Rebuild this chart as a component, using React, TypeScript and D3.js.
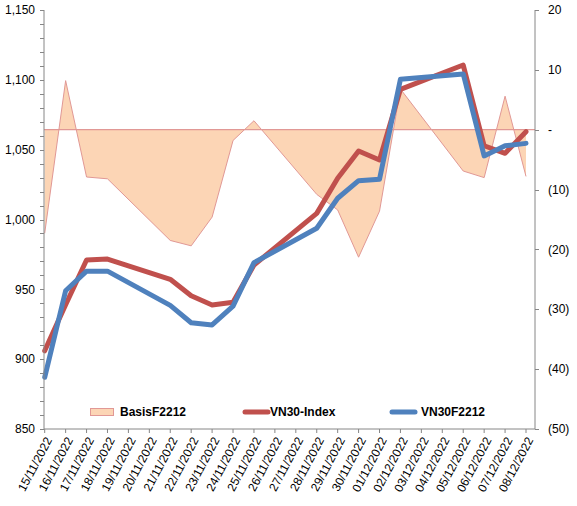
import React from "react";
import * as d3 from "d3";

const tradingDates = [
  "2022-11-15", "2022-11-16", "2022-11-17", "2022-11-18",
  "2022-11-21", "2022-11-22", "2022-11-23", "2022-11-24", "2022-11-25",
  "2022-11-28", "2022-11-29", "2022-11-30", "2022-12-01", "2022-12-02",
  "2022-12-05", "2022-12-06", "2022-12-07", "2022-12-08",
];
const vn30Index = [906, 939, 971, 971.7, 957.2, 945.4, 938.8, 940.7, 967.4, 1004.4, 1029.5, 1049, 1042.6, 1093.2, 1110.6, 1052.8, 1047.4, 1062.9];
const vn30F2212 = [887, 949, 963, 963, 938.5, 926.1, 924.5, 938, 969.1, 993.7, 1015.2, 1027.8, 1028.8, 1100.4, 1104.2, 1045.5, 1052.8, 1054.5];
const basisF2212 = [-17.3, 8.2, -7.9, -8.2, -18.5, -19.4, -14.6, -1.8, 1.5, -10.8, -13.4, -21.3, -13.6, 6.8, -6.9, -8.0, 5.6, -7.8];

const xTickDates = [
  "2022-11-15", "2022-11-16", "2022-11-17", "2022-11-18", "2022-11-19", "2022-11-20",
  "2022-11-21", "2022-11-22", "2022-11-23", "2022-11-24", "2022-11-25", "2022-11-26",
  "2022-11-27", "2022-11-28", "2022-11-29", "2022-11-30", "2022-12-01", "2022-12-02",
  "2022-12-03", "2022-12-04", "2022-12-05", "2022-12-06", "2022-12-07", "2022-12-08",
];
const leftTicks = [850, 900, 950, 1000, 1050, 1100, 1150];
const rightTicks = [-50, -40, -30, -20, -10, 0, 10, 20];

const FONT = "'Liberation Sans', Arial, sans-serif";

export default function App() {
  const W = 577, H = 506;
  const left = 44, right = 535, top = 10, bottom = 429;
  const parse = d3.utcParse("%Y-%m-%d");
  const fmtDate = d3.utcFormat("%d/%m/%Y");
  const x = d3.scaleUtc()
    .domain([parse("2022-11-15")!, parse("2022-12-08")!])
    .range([44.7, 526]);
  const yL = d3.scaleLinear().domain([850, 1150]).range([bottom, top]);
  const yR = d3.scaleLinear().domain([-50, 20]).range([bottom, top]);

  const dates = tradingDates.map((d) => parse(d)!);
  const idx = d3.range(tradingDates.length);

  const area = d3.area<number>()
    .x((i) => x(dates[i]))
    .y0(() => yR(0))
    .y1((i) => yR(basisF2212[i]))(idx) || "";
  const basisLine = d3.line<number>()
    .x((i) => x(dates[i]))
    .y((i) => yR(basisF2212[i]))(idx) || "";
  const redLine = d3.line<number>()
    .x((i) => x(dates[i]))
    .y((i) => yL(vn30Index[i]))(idx) || "";
  const blueLine = d3.line<number>()
    .x((i) => x(dates[i]))
    .y((i) => yL(vn30F2212[i]))(idx) || "";

  const minorTicks = d3.range(850, 1151, 10);
  const fmtR = (v: number) => (v === 0 ? "-" : v < 0 ? `(${Math.abs(v)})` : `${v}`);
  const fmtL = d3.format(",");
  const axisColor = "#868686";
  const legendY = 412;

  return (
    <svg width={W} height={H} style={{ position: "absolute", left: 0, top: 0 }} fontFamily={FONT}>
      <rect width={W} height={H} fill="#fff" />
      {/* basis area */}
      <path d={area} fill="#FCD5B5" stroke="none" />
      <line x1={left} x2={right} y1={yR(0)} y2={yR(0)} stroke="#E19895" strokeWidth={1.2} />
      <path d={basisLine} fill="none" stroke="#E19895" strokeWidth={1} />
      {/* lines */}
      <path d={redLine} fill="none" stroke="#C0504D" strokeWidth={5} strokeLinejoin="round" strokeLinecap="round" />
      <path d={blueLine} fill="none" stroke="#4F81BD" strokeWidth={5} strokeLinejoin="round" strokeLinecap="round" />

      {/* axes */}
      <line x1={left} x2={left} y1={top} y2={bottom} stroke={axisColor} />
      <line x1={right} x2={right} y1={top} y2={bottom} stroke={axisColor} />
      <line x1={left} x2={right} y1={bottom} y2={bottom} stroke={axisColor} />
      {minorTicks.map((v) => (
        <line key={"lm" + v} x1={left - 4} x2={left} y1={Math.round(yL(v)) + 0.5} y2={Math.round(yL(v)) + 0.5} stroke={axisColor} />
      ))}
      {leftTicks.map((v) => (
        <text key={"lt" + v} x={35} y={yL(v)} dy="0.35em" textAnchor="end" fontSize={12} fill="#000">
          {fmtL(v)}
        </text>
      ))}
      {rightTicks.map((v) => (
        <g key={"rt" + v}>
          <line x1={right} x2={right + 4} y1={Math.round(yR(v)) + 0.5} y2={Math.round(yR(v)) + 0.5} stroke={axisColor} />
          <text x={548} y={yR(v)} dy="0.35em" textAnchor="start" fontSize={12} fill="#000">
            {fmtR(v)}
          </text>
        </g>
      ))}
      {xTickDates.map((d) => {
        const px = x(parse(d)!);
        return (
          <g key={"xt" + d}>
            <line x1={px} x2={px} y1={bottom} y2={bottom + 4} stroke={axisColor} />
            <text
              transform={`translate(${px + 4},${bottom + 9}) rotate(-62)`}
              textAnchor="end"
              dy="0.35em"
              fontSize={12}
              fill="#000"
            >
              {fmtDate(parse(d)!)}
            </text>
          </g>
        );
      })}

      {/* legend */}
      <rect x={90.5} y={408.5} width={23} height={7} fill="#FCD5B5" stroke="#E19895" />
      <text x={120} y={legendY} dy="0.35em" fontSize={12} fontWeight="bold">BasisF2212</text>
      <line x1={245} x2={268} y1={legendY} y2={legendY} stroke="#C0504D" strokeWidth={5} strokeLinecap="round" />
      <text x={270} y={legendY} dy="0.35em" fontSize={12} fontWeight="bold">VN30-Index</text>
      <line x1={392} x2={415} y1={legendY} y2={legendY} stroke="#4F81BD" strokeWidth={5} strokeLinecap="round" />
      <text x={421} y={legendY} dy="0.35em" fontSize={12} fontWeight="bold">VN30F2212</text>
    </svg>
  );
}
